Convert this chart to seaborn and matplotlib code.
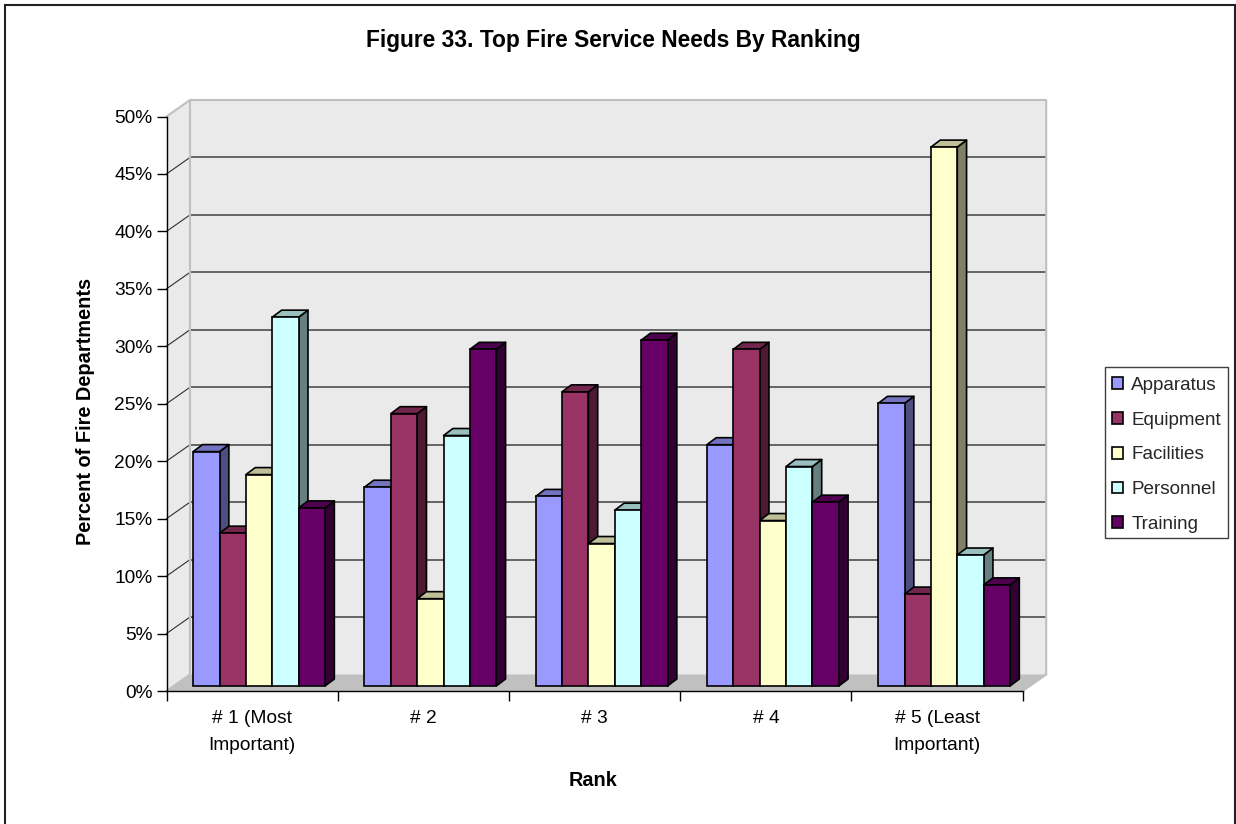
import numpy as np
import pandas as pd
import matplotlib
matplotlib.use("Agg")
import matplotlib.pyplot as plt
from matplotlib.patches import Polygon, Rectangle
from matplotlib.colors import to_rgb
import seaborn as sns

# Data
ranks = ["# 1 (Most\nImportant)", "# 2", "# 3", "# 4", "# 5 (Least\nImportant)"]
needs = ["Apparatus", "Equipment", "Facilities", "Personnel", "Training"]
apparatus = [20.4, 17.3, 16.5, 21.0, 24.6]
equipment = [13.3, 23.7, 25.6, 29.3, 8.0]
facilities = [18.4, 7.6, 12.4, 14.4, 46.9]
personnel = [32.1, 21.8, 15.3, 19.1, 11.4]
training = [15.5, 29.3, 30.1, 16.0, 8.8]
colors = ["#9999FF", "#993366", "#FFFFCC", "#CCFFFF", "#660066"]
y_ticks = [0, 5, 10, 15, 20, 25, 30, 35, 40, 45, 50]

W, H = 1236, 824

df = pd.DataFrame({
    "Rank": np.repeat(ranks, len(needs)),
    "Need": needs * len(ranks),
    "Value": np.array([apparatus, equipment, facilities, personnel, training]).T.ravel(),
})

sns.set_style("white")
plt.rcParams["font.family"] = ["Liberation Sans", "DejaVu Sans"]

fig = plt.figure(figsize=(W / 100, H / 100), dpi=100, facecolor="white")

# axes = front plane of the fake 3D box
left, right, top, bottom = 166.5, 1022.7, 116.5, 691
ax = fig.add_axes([left / W, 1 - bottom / H, (right - left) / W, (bottom - top) / H])
ax.patch.set_alpha(0)

sns.barplot(data=df, x="Rank", y="Value", hue="Need", hue_order=needs, order=ranks,
            palette=colors, saturation=1, width=0.77, gap=0, errorbar=None,
            edgecolor="black", linewidth=1.2, legend=False, ax=ax)

ax.set_xlim(-0.5, 4.5)
ax.set_ylim(0, 50)

px_x = 5 / (right - left)
px_y = 50 / (bottom - top)
wall_dx, wall_dy = 23.5 * px_x, 16.5 * px_y
bar_dx, bar_dy = 9.3 * px_x, 7 * px_y
shift_x, shift_y = 7 * px_x, 5 * px_y

# walls and floor
wall = "#EAEAEA"
silver = "#C0C0C0"
ax.add_patch(Polygon([(-0.5 + wall_dx, wall_dy), (4.5 + wall_dx, wall_dy),
                      (4.5 + wall_dx, 50 + wall_dy), (-0.5 + wall_dx, 50 + wall_dy)],
                     fc=wall, ec="none", clip_on=False, zorder=0.1))
ax.add_patch(Polygon([(-0.5, 0), (-0.5 + wall_dx, wall_dy), (-0.5 + wall_dx, 50 + wall_dy), (-0.5, 50)],
                     fc=wall, ec="none", clip_on=False, zorder=0.1))
ax.add_patch(Polygon([(-0.5, 0), (4.5, 0), (4.5 + wall_dx, wall_dy), (-0.5 + wall_dx, wall_dy)],
                     fc=silver, ec="none", clip_on=False, zorder=0.2))

# gridlines on back and left walls
for t in y_ticks[1:-1]:
    ax.plot([-0.5 + wall_dx, 4.5 + wall_dx], [t + wall_dy] * 2, color="#404040", lw=1.1,
            clip_on=False, zorder=0.3)
    ax.plot([-0.5, -0.5 + wall_dx], [t, t + wall_dy], color="#303030", lw=0.8,
            clip_on=False, zorder=0.3)

# silver frame of the walls
ax.plot([-0.5, -0.5 + wall_dx, 4.5 + wall_dx, 4.5 + wall_dx, 4.5],
        [50, 50 + wall_dy, 50 + wall_dy, wall_dy, 0],
        color=silver, lw=1.5, clip_on=False, zorder=0.4)
ax.plot([-0.5 + wall_dx, -0.5 + wall_dx, -0.5], [50 + wall_dy, wall_dy, 0], color=silver, lw=1.5,
        clip_on=False, zorder=0.4)

# add side and top faces to the seaborn bars, left to right
bars = sorted([p for p in ax.patches if isinstance(p, Rectangle)], key=lambda p: p.get_x())
for i, bar in enumerate(bars):
    bar.set_x(bar.get_x() + shift_x)
    bar.set_y(shift_y)
    bar.set_zorder(2 + i + 0.5)
    bar.set_clip_on(False)
    x0 = bar.get_x()
    x1 = x0 + bar.get_width()
    y0 = shift_y
    y1 = y0 + bar.get_height()
    rgb = np.array(to_rgb(bar.get_facecolor()[:3]))
    ax.add_patch(Polygon([(x1, y0), (x1 + bar_dx, y0 + bar_dy), (x1 + bar_dx, y1 + bar_dy), (x1, y1)],
                         fc=rgb * 0.5, ec="black", lw=1.2, clip_on=False, joinstyle="round", zorder=2 + i))
    ax.add_patch(Polygon([(x0, y1), (x1, y1), (x1 + bar_dx, y1 + bar_dy), (x0 + bar_dx, y1 + bar_dy)],
                         fc=rgb * 0.75, ec="black", lw=1.2, clip_on=False, joinstyle="round", zorder=2 + i))

# axes
sns.despine(ax=ax)
for s in ["left", "bottom"]:
    ax.spines[s].set_linewidth(1.0)
    ax.spines[s].set_color("black")
    ax.spines[s].set_zorder(1)
ax.set_yticks(y_ticks, labels=[f"{t}%" for t in y_ticks])
ax.set_xticks(np.arange(-0.5, 5), labels=[""] * 6)
ax.set_xticks(range(5), labels=ranks, minor=True)
ax.tick_params(axis="y", length=7, width=1.0, color="black", labelsize=13.8, pad=3, left=True, labelcolor="black")
ax.tick_params(axis="x", which="major", length=7, width=1.0, color="black", bottom=True)
ax.tick_params(axis="x", which="minor", length=0, labelsize=13.8, pad=14, labelcolor="black")
for lab in ax.get_xticklabels(minor=True):
    lab.set_linespacing(1.75)

ax.set_xlabel("Rank", fontsize=14.3, fontweight="bold", color="black")
ax.xaxis.set_label_coords((593.5 - left) / (right - left), -(780 - bottom) / (bottom - top), transform=ax.transAxes)
ax.xaxis.label.set_va("center")
ax.set_ylabel("Percent of Fire Departments", fontsize=14.4, fontweight="bold", color="black")
ax.yaxis.set_label_coords(-(left - 86) / (right - left), (bottom - 411) / (bottom - top), transform=ax.transAxes)
ax.yaxis.label.set_va("center")

fig.text(613.5 / W, 1 - 40 / H, "Figure 33. Top Fire Service Needs By Ranking", ha="center", va="center",
         fontsize=16.4, fontweight="bold", color="black")

# legend, frame drawn separately so the rows can sit lower inside it
fig.add_artist(Rectangle((1105 / W, 1 - 538 / H), 122.7 / W, 171.3 / H, transform=fig.transFigure,
                         fc="white", ec="#404040", lw=1.0))
handles = [Rectangle((0, 0), 1, 1, fc=c, ec="black", lw=1.2) for c in colors]
leg = fig.legend(handles, needs, loc="upper left",
                 bbox_to_anchor=(1105 / W, 1 - 370 / H), borderaxespad=0,
                 fontsize=13.6, frameon=False,
                 handlelength=0.58, handleheight=0.58, handletextpad=0.45,
                 labelspacing=0.937, borderpad=0.37)

# chart border, open at the bottom like the reference crop
fig.add_artist(Rectangle((4.5 / W, -0.01), 1230 / W, 1.01 - 4.5 / H, transform=fig.transFigure,
                         fill=False, ec="#222222", lw=1.5))

fig.savefig("out.png", dpi=100)
